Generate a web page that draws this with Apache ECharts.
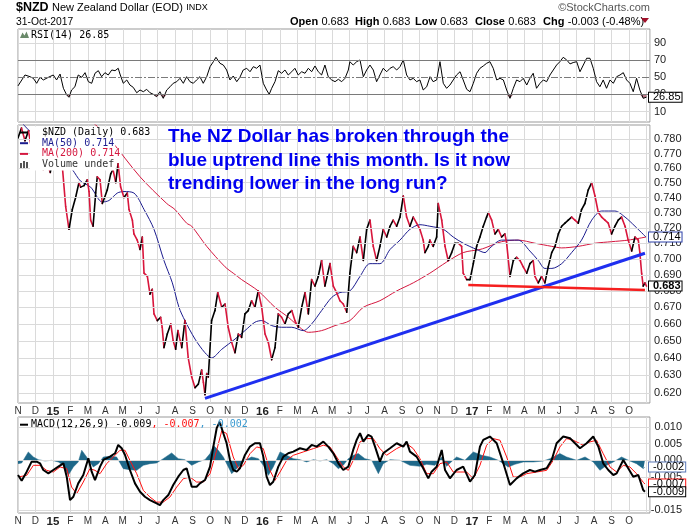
<!DOCTYPE html>
<html><head><meta charset="utf-8">
<script src="https://cdn.jsdelivr.net/npm/echarts@6/dist/echarts.min.js"></script>
<style>html,body{margin:0;padding:0;background:#fff}#c{width:700px;height:530px}</style>
</head><body><div id="c"></div>
<script>
// x positions are "months since 1 Nov 2014" (0 = Nov 2014)
const monthLabels = ['N','D','15','F','M','A','M','J','J','A','S','O','N','D','16','F','M','A','M','J','J','A','S','O','N','D','17','F','M','A','M','J','J','A','S','O'];
const priceTicks = [0.62,0.63,0.64,0.65,0.66,0.67,0.68,0.69,0.70,0.71,0.72,0.73,0.74,0.75,0.76,0.77,0.78];
const rsiTicks = [10,30,50,70,90];
const macdTicks = [0.010,0.005,0.000,-0.005,-0.010,-0.015];
const headerStats = [['Open','0.683'],['High','0.683'],['Low','0.683'],['Close','0.683'],['Chg','-0.003 (-0.48%)']];

const priceData = [[0.00,0.781],[0.20,0.788],[0.40,0.779],[0.60,0.786],[0.80,0.772],[1.00,0.778],[1.20,0.768],[1.45,0.759],[1.65,0.764],[1.85,0.757],[2.05,0.770],[2.25,0.760],[2.40,0.772],[2.54,0.761],[2.73,0.734],[2.92,0.719],
[3.11,0.732],[3.30,0.740],[3.49,0.750],[3.59,0.747],[3.78,0.748],[3.97,0.752],[4.07,0.744],[4.16,0.725],[4.30,0.721],[4.45,0.743],[4.54,0.754],[4.70,0.752],[4.83,0.736],[4.96,0.740],[5.11,0.745],[5.31,0.756],[5.44,0.759],[5.60,0.750],[5.73,0.763],[5.88,0.747],[6.07,0.740],[6.26,0.743],[6.36,0.732],[6.55,0.725],[6.64,0.716],[6.83,0.712],[6.99,0.706],[7.12,0.714],[7.22,0.691],[7.41,0.689],[7.56,0.678],[7.69,0.681],[7.79,0.666],[7.98,0.662],[8.17,0.664],[8.26,0.658],[8.36,0.646],[8.55,0.654],[8.75,0.660],[8.89,0.650],[9.03,0.645],[9.16,0.656],[9.38,0.646],[9.56,0.662],[9.75,0.640],[9.95,0.629],[10.14,0.623],[10.33,0.625],[10.52,0.633],[10.62,0.626],[10.71,0.619],[10.81,0.631],[10.90,0.629],[11.09,0.662],[11.28,0.668],[11.44,0.679],[11.67,0.670],[11.86,0.672],[12.04,0.658],[12.24,0.649],[12.43,0.643],[12.62,0.654],[12.81,0.652],[13.00,0.666],[13.19,0.668],[13.38,0.674],[13.57,0.670],[13.76,0.680],[13.96,0.670],[14.15,0.654],[14.34,0.649],[14.53,0.639],[14.72,0.646],[14.91,0.666],[15.10,0.664],[15.29,0.660],[15.48,0.666],[15.68,0.668],[15.86,0.662],[16.05,0.658],[16.25,0.670],[16.44,0.679],[16.63,0.666],[16.82,0.687],[17.01,0.683],[17.20,0.689],[17.39,0.699],[17.58,0.683],[17.87,0.697],[18.06,0.683],[18.25,0.679],[18.44,0.674],[18.63,0.672],[18.83,0.667],[19.01,0.691],[19.20,0.708],[19.40,0.704],[19.59,0.714],[19.78,0.699],[19.97,0.719],[20.16,0.725],[20.35,0.708],[20.54,0.699],[20.73,0.708],[20.92,0.719],[21.12,0.714],[21.31,0.721],[21.49,0.725],[21.69,0.721],[21.88,0.727],[22.07,0.741],[22.26,0.727],[22.45,0.721],[22.64,0.727],[22.83,0.723],[23.02,0.719],[23.21,0.712],[23.31,0.704],[23.50,0.708],[23.59,0.712],[23.78,0.708],[23.98,0.714],[24.07,0.736],[24.27,0.725],[24.46,0.708],[24.64,0.699],[24.84,0.704],[25.03,0.710],[25.22,0.710],[25.41,0.708],[25.50,0.691],[25.70,0.687],[25.89,0.687],[26.08,0.697],[26.27,0.708],[26.46,0.714],[26.65,0.721],[26.84,0.727],[26.94,0.730],[27.13,0.725],[27.32,0.716],[27.51,0.719],[27.70,0.714],[27.89,0.716],[27.99,0.710],[28.18,0.689],[28.37,0.699],[28.56,0.701],[28.75,0.699],[28.94,0.695],[29.14,0.691],[29.32,0.697],[29.51,0.699],[29.61,0.689],[29.80,0.685],[29.99,0.689],[30.18,0.685],[30.37,0.695],[30.57,0.704],[30.76,0.708],[30.95,0.716],[31.14,0.721],[31.33,0.723],[31.52,0.725],[31.71,0.727],[31.90,0.725],[32.09,0.723],[32.28,0.732],[32.47,0.736],[32.66,0.745],[32.86,0.750],[33.05,0.741],[33.24,0.730],[33.43,0.727],[33.62,0.725],[33.81,0.723],[34.00,0.716],[34.19,0.721],[34.38,0.725],[34.57,0.727],[34.77,0.721],[34.95,0.712],[35.15,0.705],[35.34,0.714],[35.53,0.712],[35.62,0.704],[35.72,0.691],[35.81,0.683],[35.91,0.685],[36.00,0.683]];

const ma50Data = [[0.00,0.795],[0.50,0.788],[1.00,0.782],[1.50,0.777],[2.00,0.772],[2.50,0.766],[3.00,0.760],[3.11,0.759],[3.59,0.751],[4.16,0.747],[4.83,0.737],[5.21,0.738],[5.69,0.743],[6.07,0.744],[6.64,0.743],[7.22,0.732],[7.79,0.719],[8.36,0.699],[8.84,0.685],[9.22,0.670],[9.56,0.662],[10.14,0.651],[10.71,0.643],[11.09,0.640],[11.67,0.645],[12.43,0.651],[13.00,0.656],[13.57,0.661],[13.96,0.662],[14.53,0.659],[15.10,0.658],[15.68,0.658],[16.34,0.656],[16.82,0.660],[17.39,0.668],[17.97,0.676],[18.44,0.679],[19.01,0.680],[19.59,0.689],[20.16,0.697],[20.73,0.697],[21.31,0.706],[21.88,0.712],[22.45,0.719],[23.02,0.722],[23.59,0.721],[24.36,0.719],[24.93,0.714],[25.50,0.710],[26.27,0.706],[26.75,0.704],[27.03,0.707],[27.70,0.712],[28.65,0.712],[29.32,0.705],[29.80,0.699],[30.18,0.694],[30.58,0.694],[31.14,0.697],[31.71,0.704],[32.28,0.712],[32.86,0.725],[33.43,0.731],[34.19,0.731],[34.77,0.727],[35.34,0.721],[35.97,0.714]];

const ma200Data = [[3.00,0.803],[4.47,0.790],[5.27,0.780],[6.99,0.754],[8.52,0.736],[8.99,0.732],[9.66,0.723],[9.95,0.721],[10.81,0.708],[11.86,0.695],[12.33,0.691],[12.81,0.687],[13.76,0.680],[14.72,0.670],[15.48,0.664],[16.25,0.657],[16.63,0.655],[17.39,0.656],[18.16,0.659],[19.01,0.662],[19.78,0.670],[20.73,0.674],[21.69,0.680],[22.64,0.685],[23.59,0.691],[24.55,0.698],[25.50,0.704],[26.46,0.706],[26.75,0.707],[27.70,0.711],[28.65,0.712],[29.61,0.710],[30.57,0.708],[31.14,0.707],[32.09,0.708],[33.05,0.710],[34.00,0.711],[34.95,0.712],[35.97,0.714]];

const uptrendLine = [[10.71,0.617],[35.91,0.7036]];
const supportLine = [[25.79,0.6836],[35.91,0.6806]];

const rsiData = [[0.00,40],[0.11,41],[0.40,52.7],[0.69,50.7],[0.88,48.8],[1.07,43],[1.26,50],[1.45,46.9],[1.74,50],[2.02,52.7],[2.21,46.9],[2.41,53.8],[2.60,37.2],[2.79,29.4],[2.92,26.7],[3.07,35.2],[3.26,39],[3.45,52.7],[3.65,50],[3.84,55.4],[4.03,44.9],[4.22,43],[4.41,54.7],[4.60,57.7],[4.79,50.7],[4.98,55.4],[5.17,52.7],[5.37,58.5],[5.56,57.7],[5.74,60.5],[5.84,53.8],[6.03,43],[6.23,46.9],[6.41,41],[6.60,38.3],[6.80,32],[6.99,35.2],[7.18,33.2],[7.37,36],[7.56,32],[7.75,30.2],[7.94,27.4],[8.13,33.2],[8.32,25.5],[8.52,35.2],[8.71,39],[8.89,43],[9.09,44.9],[9.28,48.8],[9.47,43],[9.66,50.7],[9.85,44.9],[10.04,43],[10.23,46.9],[10.42,50.7],[10.61,43],[10.81,50.7],[11.00,62.4],[11.19,68.2],[11.34,73.3],[11.57,66.3],[11.76,64.3],[11.95,58.5],[12.14,46.9],[12.33,51.5],[12.53,44.9],[12.71,50],[12.90,58.5],[13.10,60.5],[13.29,56.5],[13.48,62.4],[13.67,60.5],[13.86,64.3],[14.05,43],[14.24,35.2],[14.39,30.2],[14.53,37.2],[14.72,44.9],[14.91,57.7],[15.10,54.7],[15.29,58.5],[15.48,52.7],[15.68,56.5],[15.86,60.5],[16.05,52.7],[16.25,56.5],[16.44,54.7],[16.63,60.5],[16.82,56.5],[17.01,63.2],[17.20,56.5],[17.39,52.7],[17.58,64.3],[17.77,50.7],[17.97,46.9],[18.16,44.9],[18.35,47.7],[18.54,44.9],[18.73,48.8],[18.92,58.5],[19.01,68.2],[19.20,64.3],[19.40,68.2],[19.59,70.2],[19.78,50.7],[19.97,58.5],[20.16,64.3],[20.35,58.5],[20.54,44.9],[20.73,52.7],[20.92,60.5],[21.12,56.5],[21.31,60.5],[21.49,62.4],[21.69,58.5],[21.88,62.4],[22.07,70.2],[22.26,52.7],[22.45,46.9],[22.64,48.8],[22.83,44.9],[23.02,46.9],[23.21,35.2],[23.41,39],[23.60,50.7],[23.78,44.9],[23.98,46.9],[24.17,68.2],[24.36,43],[24.55,37.2],[24.74,41],[24.93,46.9],[25.12,52.7],[25.32,56.5],[25.50,46.9],[25.70,36],[25.89,33.2],[26.08,43],[26.27,54.7],[26.46,60.5],[26.65,63.2],[26.84,66.3],[27.03,68.2],[27.22,60.5],[27.42,46.9],[27.61,48.8],[27.80,46.9],[27.99,35.2],[28.18,25.5],[28.37,37.2],[28.56,46.9],[28.75,44.9],[28.94,48.8],[29.14,41],[29.32,48.8],[29.51,54.7],[29.70,37.2],[29.90,43],[30.09,46.9],[30.28,44.9],[30.47,52.7],[30.66,58.5],[30.85,64.3],[31.04,68.2],[31.23,73.3],[31.43,70.2],[31.62,65.6],[31.80,67.2],[32.00,68.2],[32.19,56.5],[32.38,64.3],[32.57,72.2],[32.76,72.2],[32.95,60.5],[33.14,44.9],[33.33,39],[33.52,46.9],[33.71,37.2],[33.91,46.9],[34.10,43],[34.29,50.7],[34.48,52.7],[34.67,55.4],[34.86,46.9],[35.05,43],[35.24,33.2],[35.43,48.8],[35.62,35.2],[35.81,25.5],[36.00,26.85]];

const macdData = [[0.00,-0.0044],[0.21,-0.0061],[0.50,-0.0034],[0.78,-0.0004],[1.07,-0.0004],[1.26,-0.0009],[1.45,-0.0029],[1.74,-0.0039],[2.02,-0.0029],[2.31,-0.0019],[2.60,-0.0009],[2.79,-0.0049],[2.98,-0.0119],[3.17,-0.0109],[3.45,-0.0069],[3.74,-0.0044],[4.03,0.0006],[4.22,-0.0034],[4.41,-0.0059],[4.70,-0.0019],[4.89,0.0001],[5.27,0.0011],[5.56,0.0021],[5.74,0.0046],[5.94,0.0036],[6.13,0.0016],[6.41,-0.0029],[6.70,-0.0069],[6.99,-0.0094],[7.27,-0.0109],[7.56,-0.0119],[7.94,-0.0129],[8.13,-0.0134],[8.32,-0.0119],[8.61,-0.0104],[8.89,-0.0074],[9.18,-0.0049],[9.47,-0.0029],[9.66,-0.0024],[9.95,-0.0079],[10.23,-0.0079],[10.42,-0.0069],[10.71,-0.0059],[11.00,-0.0019],[11.19,0.0041],[11.38,0.0096],[11.55,0.0115],[11.76,0.0081],[11.95,0.0051],[12.14,0.0001],[12.33,-0.0029],[12.53,-0.0034],[12.71,-0.0024],[13.00,0.0016],[13.29,0.0041],[13.57,0.0051],[13.86,0.0051],[14.05,0.0011],[14.24,-0.0049],[14.43,-0.0074],[14.62,-0.0064],[14.91,-0.0019],[15.20,0.0011],[15.48,0.0021],[15.77,0.0026],[16.15,0.0036],[16.53,0.0031],[16.82,0.0046],[17.11,0.0041],[17.49,0.0056],[17.77,0.0041],[18.06,0.0021],[18.35,-0.0009],[18.63,-0.0029],[18.92,-0.0019],[19.01,-0.0024],[19.20,0.0031],[19.40,0.0061],[19.59,0.0081],[19.78,0.0056],[20.06,0.0076],[20.25,0.0071],[20.45,0.0041],[20.73,-0.0004],[20.92,0.0021],[21.31,0.0036],[21.69,0.0051],[22.07,0.0041],[22.26,0.0056],[22.45,0.0026],[22.83,0.0011],[23.21,-0.0024],[23.50,-0.0054],[23.69,-0.0034],[23.98,-0.0019],[24.27,0.0031],[24.46,-0.0029],[24.74,-0.0054],[25.12,-0.0029],[25.50,-0.0019],[25.89,-0.0064],[26.17,-0.0044],[26.46,0.0041],[26.65,0.0061],[27.03,0.0071],[27.42,0.0051],[27.80,-0.0009],[28.18,-0.0074],[28.56,-0.0054],[28.94,-0.0039],[29.32,-0.0029],[29.61,-0.0034],[29.90,-0.0029],[30.28,-0.0024],[30.57,0.0001],[30.85,0.0051],[31.23,0.0071],[31.62,0.0066],[32.19,0.0036],[32.57,0.0051],[32.95,0.0071],[33.24,0.0041],[33.52,-0.0009],[33.81,-0.0029],[34.10,-0.0044],[34.29,-0.0039],[34.67,0.0001],[34.95,-0.0024],[35.24,-0.0049],[35.53,-0.0044],[35.81,-0.0089],[35.91,-0.0094]];

const signalData = [[0.00,-0.0050],[0.50,-0.0045],[0.88,-0.0015],[1.26,-0.0015],[1.64,-0.0030],[2.02,-0.0035],[2.41,-0.0020],[2.79,-0.0025],[3.07,-0.0080],[3.36,-0.0100],[3.74,-0.0065],[4.12,-0.0025],[4.41,-0.0030],[4.70,-0.0040],[5.08,-0.0010],[5.46,0.0010],[5.84,0.0030],[6.13,0.0030],[6.41,0.0000],[6.80,-0.0040],[7.18,-0.0090],[7.56,-0.0110],[7.94,-0.0125],[8.32,-0.0125],[8.70,-0.0110],[9.09,-0.0080],[9.47,-0.0055],[9.85,-0.0050],[10.23,-0.0065],[10.62,-0.0065],[11.00,-0.0040],[11.38,0.0030],[11.67,0.0088],[11.95,0.0080],[12.33,0.0010],[12.62,-0.0025],[12.91,-0.0015],[13.29,0.0020],[13.67,0.0040],[14.05,0.0035],[14.43,-0.0030],[14.72,-0.0060],[15.01,-0.0035],[15.39,0.0000],[15.77,0.0015],[16.34,0.0025],[16.92,0.0035],[17.49,0.0045],[17.87,0.0040],[18.25,0.0010],[18.63,-0.0020],[18.92,-0.0030],[19.02,-0.0030],[19.30,0.0010],[19.59,0.0055],[19.97,0.0065],[20.35,0.0065],[20.73,0.0035],[21.11,0.0015],[21.69,0.0035],[22.26,0.0050],[22.64,0.0035],[23.02,0.0005],[23.41,-0.0040],[23.79,-0.0040],[24.17,-0.0010],[24.55,-0.0005],[24.93,-0.0035],[25.32,-0.0035],[25.70,-0.0035],[26.08,-0.0055],[26.46,-0.0015],[26.84,0.0045],[27.22,0.0065],[27.61,0.0060],[27.99,0.0010],[28.37,-0.0050],[28.75,-0.0050],[29.13,-0.0040],[29.71,-0.0035],[30.28,-0.0030],[30.66,0.0000],[31.04,0.0040],[31.42,0.0065],[31.81,0.0060],[32.38,0.0045],[32.76,0.0055],[33.14,0.0060],[33.52,0.0020],[33.91,-0.0020],[34.29,-0.0035],[34.67,-0.0015],[35.05,-0.0020],[35.43,-0.0040],[35.82,-0.0066],[35.91,-0.0071]];

const histData = [[0.00,-0.0010],[0.21,-0.0008],[0.59,0.0025],[0.88,0.0010],[1.16,0.0002],[1.55,-0.0002],[1.93,0.0000],[2.31,-0.0005],[2.60,-0.0015],[2.88,-0.0045],[3.17,-0.0020],[3.45,-0.0005],[3.65,0.0030],[3.93,0.0010],[4.31,-0.0020],[4.60,-0.0010],[4.89,0.0010],[5.27,0.0012],[5.65,0.0010],[6.03,-0.0025],[6.41,-0.0028],[6.80,-0.0030],[7.18,-0.0015],[7.56,-0.0010],[7.94,-0.0008],[8.32,0.0005],[8.80,0.0022],[9.18,0.0005],[9.56,0.0002],[9.95,-0.0015],[10.33,-0.0005],[10.71,0.0002],[11.00,0.0020],[11.19,0.0045],[11.47,0.0030],[11.76,0.0010],[12.24,-0.0040],[12.62,-0.0020],[13.00,0.0000],[13.38,0.0010],[13.77,0.0005],[14.05,-0.0015],[14.34,-0.0045],[14.62,-0.0020],[15.01,0.0025],[15.39,0.0015],[15.77,0.0005],[16.15,0.0002],[16.53,-0.0005],[16.92,0.0002],[17.30,-0.0002],[17.68,0.0002],[18.06,-0.0010],[18.35,-0.0025],[18.63,-0.0015],[18.92,0.0005],[19.21,0.0015],[19.49,0.0020],[19.87,0.0005],[20.26,0.0000],[20.64,-0.0040],[20.92,-0.0010],[21.31,0.0002],[21.88,0.0000],[22.45,-0.0015],[23.02,-0.0018],[23.41,-0.0012],[23.88,-0.0015],[24.27,0.0010],[24.55,-0.0018],[25.12,0.0010],[25.60,0.0000],[26.08,0.0025],[26.56,0.0015],[27.03,0.0010],[27.51,0.0000],[28.08,-0.0020],[28.46,-0.0012],[28.94,-0.0005],[29.52,-0.0005],[30.09,-0.0002],[30.47,0.0005],[31.04,0.0020],[31.42,0.0010],[32.00,0.0000],[32.48,0.0010],[32.95,-0.0005],[33.33,-0.0030],[33.72,-0.0015],[34.10,-0.0005],[34.57,0.0010],[35.05,-0.0002],[35.43,-0.0010],[35.82,-0.0025],[35.91,-0.0020]];

const last = a => a[a.length-1][1];
const FONT = '"Liberation Sans", Arial, sans-serif';
const MONO = '"DejaVu Sans Mono", monospace';
const L = Math.log;

const chart = echarts.init(document.getElementById('c'), null, {renderer:'canvas'});

function xAx(i, showLabel){
  return {type:'value', gridIndex:i, min:0, max:36.2, interval:1,
    axisLine:{show:false}, axisTick:{show:false},
    splitLine:{show:true, lineStyle:{color:'#dadada', width:1}},
    axisLabel:{show:showLabel, margin:3, color:'#333', fontSize:10, fontFamily:FONT, showMaxLabel:false,
      formatter:v=>{const s=monthLabels[Math.round(v)]; if(s===undefined) return ''; return /\d/.test(s)?'{y|'+s+'}':s;},
      rich:{y:{fontWeight:'bold', fontSize:11.5, color:'#222', fontFamily:FONT}}}};
}
const helper = (xi, yi, mid, data, labelOpt) => ({type:'line', xAxisIndex:xi, yAxisIndex:yi, z:1, data:[[0,mid]], showSymbol:false,
  lineStyle:{opacity:0}, silent:true,
  markLine:{silent:true, symbol:'none', animation:false, precision:10, data:data,
    lineStyle:{color:'#dadada', width:1, type:'solid'},
    label:Object.assign({position:'end', distance:4, color:'#222', fontSize:11, fontFamily:FONT}, labelOpt||{})}});
const box = (v, text, border, bold) => ({silent:true, symbol:'none', animation:false, precision:10,
  lineStyle:{color:'rgba(0,0,0,0)', width:0},
  label:{show:true, position:'end', distance:-1, formatter:text, color:'#000', fontSize:11, fontFamily:FONT, fontWeight:bold?'bold':'normal',
    backgroundColor:'#fff', borderColor:border, borderWidth:1, padding:[0,1,0,4], lineHeight:9, opacity:1},
  data:[{yAxis:v}]});

// price segments coloured by direction
const segs = [];
for (let i=1;i<priceData.length;i++){
  const a=priceData[i-1], b=priceData[i];
  segs.push([a[0], L(a[1]), b[0], L(b[1]), b[1]>=a[1]?1:0]);
}

const option = {
  animation:false,
  textStyle:{fontFamily:FONT},
  grid:[
    {left:18, top:29, width:632, height:93, show:true, borderColor:'#999', borderWidth:1, backgroundColor:'#fff'},
    {left:18, top:125, width:632, height:278, show:true, borderColor:'#999', borderWidth:1, backgroundColor:'#fff'},
    {left:18, top:417, width:632, height:96, show:true, borderColor:'#999', borderWidth:1, backgroundColor:'#fff'}
  ],
  xAxis:[xAx(0,false), xAx(1,true), xAx(2,true)],
  yAxis:[
    {type:'value', gridIndex:0, min:-2.1, max:106.3, show:false},
    {type:'value', gridIndex:1, min:L(0.6144), max:L(0.7902), show:false},
    {type:'value', gridIndex:2, min:-0.01576, max:0.01295, show:false}
  ],
  series:[
    // ---- RSI panel
    helper(0,0,50, rsiTicks.map(v=>({yAxis:v, label:{formatter:String(v)},
      lineStyle: (v===30||v===70)?{color:'#7a7a7a',width:1,type:'solid'}:(v===50?{color:'#7a7a7a',width:1,type:[7,2,2,2]}:{color:'#dadada',width:1,type:'solid'})}))),
    {type:'line', xAxisIndex:0, yAxisIndex:0, z:3, data:rsiData.map(d=>[d[0],Math.min(d[1],30)]), showSymbol:false, silent:true,
      lineStyle:{width:0}, areaStyle:{origin:30, color:'#b06a7a', opacity:0.9}},
    {type:'line', xAxisIndex:0, yAxisIndex:0, z:4, data:rsiData, showSymbol:false, silent:true,
      lineStyle:{color:'#000', width:1},
      markLine: box(last(rsiData), last(rsiData).toFixed(2), '#000', false)},
    // ---- price panel
    helper(1,1,L(0.7), priceTicks.map(v=>({yAxis:L(v), label:{formatter:v.toFixed(3)}}))),
    {type:'line', xAxisIndex:1, yAxisIndex:1, z:3, data:ma200Data.map(d=>[d[0],L(d[1])]), showSymbol:false, silent:true, smooth:0.3,
      lineStyle:{color:'#d4173f', width:1}},
    {type:'line', xAxisIndex:1, yAxisIndex:1, z:3, data:ma50Data.map(d=>[d[0],L(d[1])]), showSymbol:false, silent:true, smooth:0.3,
      lineStyle:{color:'#1c1c8e', width:1},
      markLine: box(L(last(ma50Data)), last(ma50Data).toFixed(3), '#2b3fa8', false)},
    {type:'custom', xAxisIndex:1, yAxisIndex:1, z:4, clip:true, silent:true, data:segs, encode:{x:[0,2], y:[1,3]},
      renderItem:(params, api)=>{
        const p0=api.coord([api.value(0),api.value(1)]), p1=api.coord([api.value(2),api.value(3)]);
        return {type:'line', shape:{x1:p0[0],y1:p0[1],x2:p1[0],y2:p1[1]},
          style:{stroke: api.value(4)?'#000':'#d8163c', lineWidth:1.6, lineCap:'round'}};
      }},
    {type:'line', xAxisIndex:1, yAxisIndex:1, z:5, data:uptrendLine.map(d=>[d[0],L(d[1])]), showSymbol:false, silent:true,
      lineStyle:{color:'#1f2ff0', width:3}},
    {type:'line', xAxisIndex:1, yAxisIndex:1, z:5, data:supportLine.map(d=>[d[0],L(d[1])]), showSymbol:false, silent:true,
      lineStyle:{color:'#f51f1f', width:2.5},
      markLine: box(L(last(priceData)), last(priceData).toFixed(3), '#000', true)},
    // ---- MACD panel
    helper(2,2,0, macdTicks.map(v=>({yAxis:v, label:{formatter:v.toFixed(3)}})), {distance:32, align:'right'}),
    {type:'line', xAxisIndex:2, yAxisIndex:2, z:3, data:histData, showSymbol:false, silent:true,
      lineStyle:{color:'#1f6889', width:0.5}, areaStyle:{color:'#1f6889', opacity:1, origin:0},
      markLine: box(last(histData), last(histData).toFixed(3), '#5b79b8', false)},
    {type:'line', xAxisIndex:2, yAxisIndex:2, z:4, data:signalData, showSymbol:false, silent:true,
      lineStyle:{color:'#ff1010', width:1},
      markLine: box(last(signalData), last(signalData).toFixed(3), '#ff1010', false)},
    {type:'line', xAxisIndex:2, yAxisIndex:2, z:5, data:macdData, showSymbol:false, silent:true,
      lineStyle:{color:'#000', width:2},
      markLine: box(last(macdData), last(macdData).toFixed(3), '#000', false)}
  ],
  graphic:{elements:[
    {type:'text', x:16, y:8, z:100, style:{text:'{a|$NZD} {b|New Zealand Dollar (EOD)} {c|INDX}', textVerticalAlign:'middle',
      rich:{a:{font:'bold 12.5px '+FONT, fill:'#000'}, b:{font:'11px '+FONT, fill:'#000'}, c:{font:'9px '+FONT, fill:'#000'}}}},
    {type:'text', x:16, y:22, z:100, style:{text:'31-Oct-2017', font:'10.3px '+FONT, fill:'#000', textVerticalAlign:'middle'}},
    {type:'text', x:650, y:8, z:100, style:{text:'\u00a9StockCharts.com', font:'11px '+FONT, fill:'#555', textAlign:'right', textVerticalAlign:'middle'}},
    ...headerStats.map((s,i)=>({type:'text', x:[290,355,415,475,543][i], y:22, z:100,
      style:{text:'{k|'+s[0]+'} {v|'+s[1]+'}', textVerticalAlign:'middle',
        rich:{k:{font:'bold 11px '+FONT, fill:'#000'}, v:{font:'11px '+FONT, fill:'#000'}}}})),
    {type:'polygon', z:100, shape:{points:[[641,18],[649,18],[645,23]]}, style:{fill:'#a0102a'}},
    // RSI legend
    {type:'polygon', z:101, shape:{points:[[20,38],[22.5,32.5],[24.5,35.5],[26.5,31.5],[29,38]]}, style:{fill:'#6a8a6a'}},
    {type:'text', x:31, y:35, z:100, style:{text:'RSI(14) '+last(rsiData).toFixed(2), font:'10px '+MONO, fill:'#000', textVerticalAlign:'middle'}},
    // price legend
    {type:'text', x:30, y:132.5, z:100, style:{text:'$NZD (Daily) '+last(priceData).toFixed(3), font:'10px '+MONO, fill:'#000', textVerticalAlign:'middle', backgroundColor:'#fff', padding:[1,1,1,12]}},
    {type:'text', x:30, y:143.2, z:100, style:{text:'MA(50) '+last(ma50Data).toFixed(3), font:'10px '+MONO, fill:'#1c1c8e', textVerticalAlign:'middle', backgroundColor:'#fff', padding:[1,1,1,12]}},
    {type:'text', x:30, y:153.9, z:100, style:{text:'MA(200) '+last(ma200Data).toFixed(3), font:'10px '+MONO, fill:'#d4173f', textVerticalAlign:'middle', backgroundColor:'#fff', padding:[1,1,1,12]}},
    {type:'text', x:30, y:164.4, z:100, style:{text:'Volume undef', font:'10px '+MONO, fill:'#333', textVerticalAlign:'middle', backgroundColor:'#fff', padding:[1,1,1,12]}},
    {type:'line', z:101, shape:{x1:20,y1:132.5,x2:28,y2:132.5}, style:{stroke:'#000', lineWidth:2}},
    {type:'line', z:101, shape:{x1:20,y1:143.2,x2:28,y2:143.2}, style:{stroke:'#1c1c8e', lineWidth:2}},
    {type:'line', z:101, shape:{x1:20,y1:153.9,x2:28,y2:153.9}, style:{stroke:'#d4173f', lineWidth:2}},
    {type:'rect', z:101, shape:{x:20,y:163,width:2,height:5}, style:{fill:'#555'}},
    {type:'rect', z:101, shape:{x:23,y:161,width:2,height:7}, style:{fill:'#555'}},
    {type:'rect', z:101, shape:{x:26,y:162,width:2,height:6}, style:{fill:'#555'}},
    // annotation
    {type:'text', x:168, y:136.7, z:100, style:{text:'The NZ Dollar has broken through the', font:'bold 19px '+FONT, fill:'#0000f0', textVerticalAlign:'middle'}},
    {type:'text', x:168, y:160.5, z:100, style:{text:'blue uptrend line this month. Is it now', font:'bold 19px '+FONT, fill:'#0000f0', textVerticalAlign:'middle'}},
    {type:'text', x:168, y:184.2, z:100, style:{text:'trending lower in the long run?', font:'bold 19px '+FONT, fill:'#0000f0', textVerticalAlign:'middle'}},
    // MACD legend
    {type:'line', z:101, shape:{x1:20,y1:424.7,x2:28,y2:424.7}, style:{stroke:'#000', lineWidth:2}},
    {type:'text', x:31, y:424.7, z:100, style:{text:'{a|MACD(12,26,9) '+last(macdData).toFixed(3)+'}{b|, '+last(signalData).toFixed(3)+'}{c|, '+last(histData).toFixed(3)+'}', textVerticalAlign:'middle',
      rich:{a:{font:'10px '+MONO, fill:'#000'}, b:{font:'10px '+MONO, fill:'#ff1010'}, c:{font:'10px '+MONO, fill:'#3a9ad0'}}}}
  ]}
};
chart.setOption(option);
</script></body></html>
